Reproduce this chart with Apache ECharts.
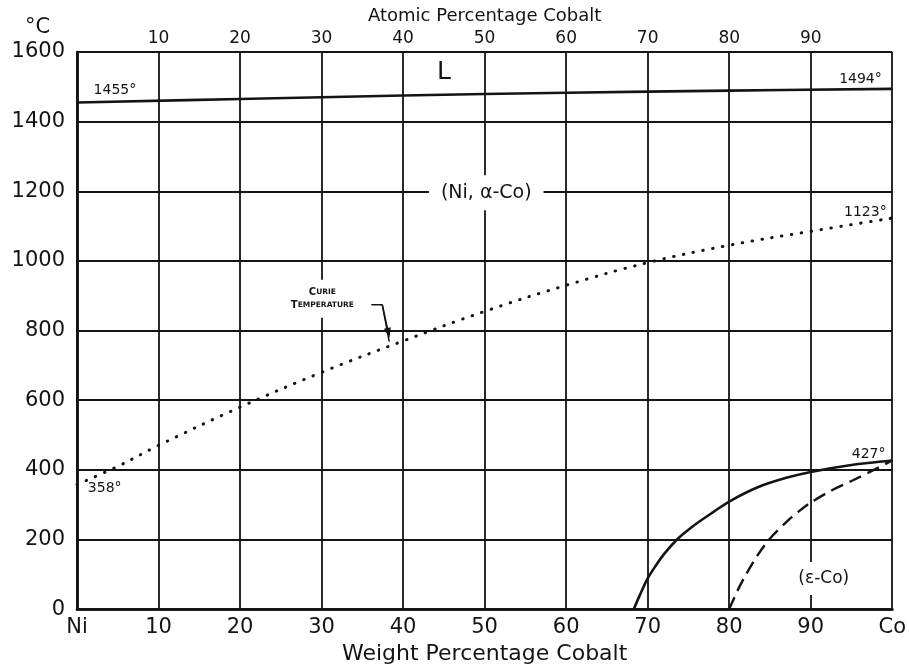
<!DOCTYPE html>
<html>
<head>
<meta charset="utf-8">
<script src="https://cdn.jsdelivr.net/npm/echarts@6/dist/echarts.min.js"></script>
<style>html,body{margin:0;padding:0;background:#fff;}#c{width:909px;height:670px;}</style>
</head>
<body>
<div id="c"></div>
<script>
// ---- data (weight % Co, temperature °C) ----
var liquidusX = [0, 20, 40, 60, 80, 100];
var liquidusY = [1455, 1465, 1475, 1483, 1489, 1494];

var curieX = [0, 5, 10, 20, 30, 40, 50, 60, 70, 80, 90, 100];
var curieY = [358, 410, 470, 580, 680, 770, 855, 930, 995, 1045, 1085, 1123];

var heatingX = [68.3, 69, 70, 71, 72, 73.6, 75, 76, 78, 80, 83.5, 87, 90, 95, 100];
var heatingY = [0, 38, 88, 125, 158, 200, 228, 246, 278, 309, 350, 377, 394, 414, 427];

var coolingX = [80.0, 81, 82, 83.3, 84.9, 87, 88.5, 90, 92.5, 95, 97.5, 100];
var coolingY = [0, 52, 97, 148, 200, 250, 280, 306, 340, 368, 397, 427];

var yTicks = [0, 200, 400, 600, 800, 1000, 1200, 1400, 1600];
var bottomTickNames = {0: 'Ni', 100: 'Co'};

// annotation texts and anchor (wt %, °C)
var annText = ['1455°', '1494°', 'L', '(Ni, α-Co)', '1123°', '358°', '427°', '(ε-Co)'];
var annX = [4.65, 96.1, 45, 50.2, 96.7, 3.4, 97.1, 91.6];
var annY = [1489, 1520, 1540, 1196, 1139, 347, 444, 88];

var curieLabelX = 30.1, curieLabelY = 891;
var leaderX = [36.1, 37.45, 38.3];
var leaderY = [874, 874, 768];

function pairs(xs, ys) { return xs.map(function (x, i) { return [x, ys[i]]; }); }

var INK = '#141414';
var FONT = 'DejaVu Sans';

var annStyles = {
  '1455°': {fontSize: 14, bg: null},
  '1494°': {fontSize: 14, bg: null},
  'L': {fontSize: 25, bg: null},
  '(Ni, α-Co)': {fontSize: 19, bg: '#fff', pad: [8, 12]},
  '1123°': {fontSize: 14, bg: null},
  '358°': {fontSize: 14, bg: null},
  '427°': {fontSize: 14, bg: null},
  '(ε-Co)': {fontSize: 17, bg: '#fff', pad: [8, 4]}
};

var annData = annText.map(function (t, i) {
  var s = annStyles[t];
  return {
    value: [annX[i], annY[i]],
    label: {
      show: true, position: 'inside', formatter: t,
      fontSize: s.fontSize, fontFamily: FONT, color: INK, fontWeight: 'normal',
      textBorderWidth: 0, opacity: 1,
      backgroundColor: s.bg || 'transparent', padding: s.pad || 0
    }
  };
});
annData.push({
  value: [curieLabelX, curieLabelY],
  label: {
    show: true, position: 'inside', align: 'center',
    formatter: '{b|C}{s|URIE}\n{b|T}{s|EMPERATURE}',
    backgroundColor: '#fff', padding: [6, 3], textBorderWidth: 0,
    rich: {
      b: {fontSize: 10, fontFamily: FONT, fontWeight: 'bold', color: INK, lineHeight: 13, textBorderWidth: 0},
      s: {fontSize: 7.5, fontFamily: FONT, fontWeight: 'bold', color: INK, lineHeight: 13, textBorderWidth: 0}
    }
  }
});

var chart = echarts.init(document.getElementById('c'), null, {renderer: 'canvas'});
chart.setOption({
  animation: false,
  backgroundColor: '#fff',
  grid: {left: 77, right: 15, top: 52, bottom: 55, containLabel: false},
  xAxis: [{
    type: 'value', position: 'bottom', min: 0, max: 100, interval: 10,
    name: 'Weight Percentage Cobalt', nameLocation: 'middle', nameGap: 32,
    nameTextStyle: {fontSize: 22, fontFamily: FONT, color: INK},
    axisLine: {show: true, lineStyle: {color: INK, width: 2.5}},
    axisTick: {show: false},
    axisLabel: {
      fontSize: 21, fontFamily: FONT, color: INK, margin: 8,
      formatter: function (v) { return bottomTickNames[v] !== undefined ? bottomTickNames[v] : String(v); }
    },
    splitLine: {show: true, lineStyle: {color: INK, width: 1.8}}
  }, {
    type: 'value', position: 'top', min: 0, max: 100, interval: 10,
    name: 'Atomic Percentage Cobalt', nameLocation: 'middle', nameGap: 26,
    nameTextStyle: {fontSize: 18, fontFamily: FONT, color: INK},
    axisLine: {show: true, lineStyle: {color: INK, width: 2.5}},
    axisTick: {show: false},
    axisLabel: {
      fontSize: 17, fontFamily: FONT, color: INK, margin: 5,
      formatter: function (v) { return (v === 0 || v === 100) ? '' : String(v); }
    },
    splitLine: {show: false}
  }],
  yAxis: [{
    type: 'value', min: 0, max: 1600, interval: 200,
    axisLine: {show: true, lineStyle: {color: INK, width: 2.5}},
    axisTick: {show: false},
    axisLabel: {fontSize: 21, fontFamily: FONT, color: INK, margin: 12,
      formatter: function (v) { return yTicks.indexOf(v) >= 0 ? String(v) : ''; }},
    splitLine: {show: true, lineStyle: {color: INK, width: 1.8}}
  }, {
    type: 'value', position: 'right', min: 0, max: 1600, interval: 200,
    axisLine: {show: true, lineStyle: {color: INK, width: 2.5}},
    axisTick: {show: false}, axisLabel: {show: false}, splitLine: {show: false}
  }],
  graphic: [{
    type: 'text', left: 25, top: 17,
    style: {text: '°C', fontSize: 21, fontFamily: FONT, fill: INK}
  }],
  series: [{
    type: 'line', name: 'Liquidus', data: pairs(liquidusX, liquidusY),
    smooth: 0.4, symbol: 'none', showSymbol: false, z: 3,
    lineStyle: {color: INK, width: 2.6}
  }, {
    type: 'line', name: 'Curie temperature', data: pairs(curieX, curieY),
    smooth: 0.4, symbol: 'none', showSymbol: false, z: 3,
    lineStyle: {color: INK, width: 3, type: [0.5, 9.5], cap: 'round'}
  }, {
    type: 'line', name: 'hcp-fcc (heating)', data: pairs(heatingX, heatingY),
    smooth: 0.3, symbol: 'none', showSymbol: false, z: 3,
    lineStyle: {color: INK, width: 2.6}
  }, {
    type: 'line', name: 'fcc-hcp (cooling)', data: pairs(coolingX, coolingY),
    smooth: 0.3, symbol: 'none', showSymbol: false, z: 3,
    lineStyle: {color: INK, width: 2.4, type: [13, 7]}
  }, {
    type: 'line', name: 'leader', data: pairs(leaderX, leaderY),
    smooth: false, symbol: 'none', showSymbol: false, z: 4,
    lineStyle: {color: INK, width: 1.5},
    markLine: {
      silent: true, symbol: ['none', 'triangle'], symbolSize: [7, 10],
      label: {show: false},
      lineStyle: {color: INK, width: 1.5, type: 'solid'},
      data: [[{coord: [leaderX[1], leaderY[1]]}, {coord: [leaderX[2] - 0.1, leaderY[2] + 25]}]]
    }
  }, {
    type: 'scatter', name: 'labels', data: annData, symbolSize: 0, z: 5,
    silent: true, itemStyle: {color: INK, opacity: 1}
  }]
});
</script>
</body>
</html>
